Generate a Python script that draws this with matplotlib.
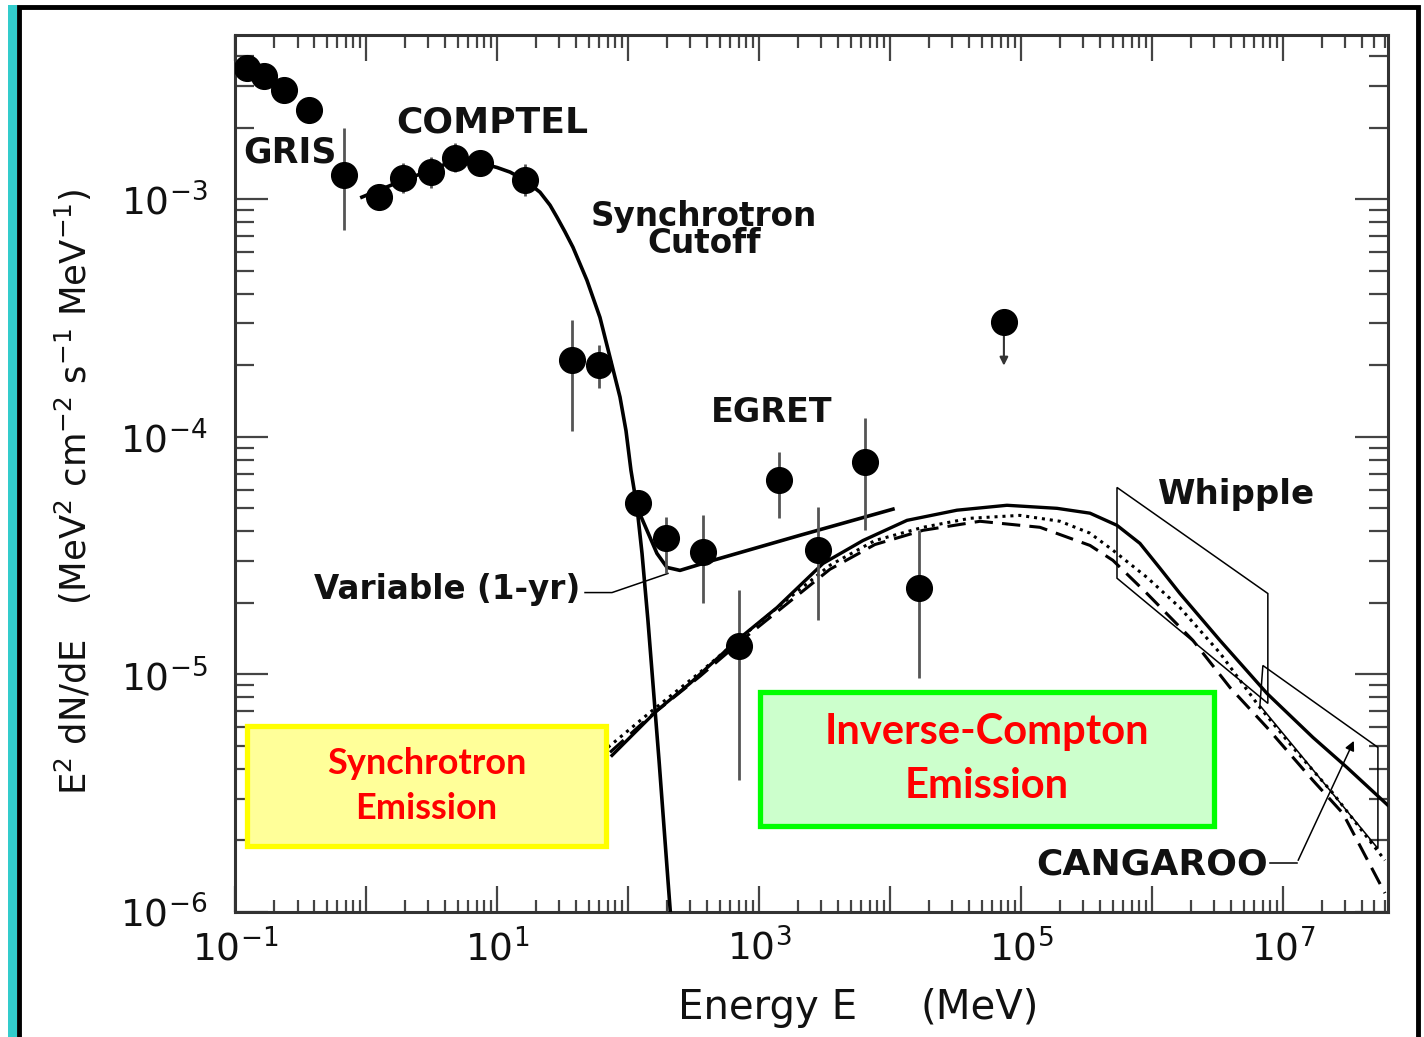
import numpy as np
import matplotlib
matplotlib.use("Agg")
import matplotlib.pyplot as plt
from matplotlib.patches import Rectangle, Polygon
from matplotlib.ticker import LogLocator, FuncFormatter, NullFormatter

# --- measured points (E in MeV, E^2 dN/dE in MeV cm^-2 s^-1) ---
gris_E = [0.124, 0.166, 0.237, 0.367, 0.68]
gris_F = [3.56e-3, 3.30e-3, 2.88e-3, 2.37e-3, 1.26e-3]
gris_hi = [3.62e-3, 3.36e-3, 2.95e-3, 2.68e-3, 1.99e-3]
gris_lo = [3.50e-3, 3.24e-3, 2.80e-3, 2.30e-3, 7.4e-4]

comptel_E = [1.26, 1.92, 3.13, 4.78, 7.4, 16.4, 37.4, 60.1]
comptel_F = [1.02e-3, 1.23e-3, 1.30e-3, 1.49e-3, 1.42e-3, 1.20e-3, 2.10e-4, 2.00e-4]
comptel_hi = [1.10e-3, 1.42e-3, 1.50e-3, 1.72e-3, 1.55e-3, 1.40e-3, 3.10e-4, 2.43e-4]
comptel_lo = [0.95e-3, 1.06e-3, 1.12e-3, 1.30e-3, 1.32e-3, 1.03e-3, 1.06e-4, 1.61e-4]

egret_E = [119, 195, 374, 703, 1422, 2820, 6440, 16600]
egret_F = [5.25e-5, 3.74e-5, 3.27e-5, 1.32e-5, 6.56e-5, 3.33e-5, 7.82e-5, 2.32e-5]
egret_hi = [5.9e-5, 4.58e-5, 4.67e-5, 2.26e-5, 8.61e-5, 5.05e-5, 1.20e-4, 4.04e-5]
egret_lo = [4.7e-5, 2.66e-5, 1.99e-5, 3.58e-6, 4.54e-5, 1.69e-5, 4.04e-5, 9.7e-6]

ulim_E = 74100
ulim_F = 3.03e-4
ulim_tip = 1.94e-4

# --- model curves ---
sync_E = [0.93, 1.91, 3.08, 4.77, 7.41, 10.0, 12.6, 16.4, 21.3, 25.4, 28.7, 33.0,
          38.0, 48.6, 61.1, 72.9, 86.9, 96.6, 105.4, 117.2, 128, 142, 172.6, 212]
sync_F = [1.02e-3, 1.20e-3, 1.32e-3, 1.46e-3, 1.42e-3, 1.36e-3, 1.30e-3, 1.20e-3,
          1.07e-3, 9.44e-4, 8.40e-4, 7.30e-4, 6.28e-4, 4.56e-4, 3.18e-4, 2.16e-4,
          1.47e-4, 1.06e-4, 7.22e-5, 5.05e-5, 3.23e-5, 1.69e-5, 4.35e-6, 9.5e-7]

var_E = [117.2, 139.6, 166.4, 198.6, 249.5, 445.6, 2056, 10540]
var_F = [5.05e-5, 4.04e-5, 3.23e-5, 2.82e-5, 2.74e-5, 3.02e-5, 3.85e-5, 4.96e-5]

ic_E = [75.5, 166.4, 297, 679, 1371, 3083, 6223, 13490, 32450, 78160, 188300,
        336500, 541000, 809700, 1.15e6, 1.636e6, 3.306e6, 7.55e6, 1.694e7, 3.08e7, 6.34e7]
ic_F = [4.56e-6, 7.05e-6, 9.16e-6, 1.39e-5, 1.91e-5, 2.93e-5, 3.66e-5, 4.45e-5,
        4.91e-5, 5.15e-5, 5.00e-5, 4.77e-5, 4.24e-5, 3.56e-5, 2.80e-5, 2.19e-5,
        1.39e-5, 8.32e-6, 5.43e-6, 4.06e-6, 2.81e-6]

icdot_E = [70.3, 147.2, 354.6, 809, 1726, 3483, 7674, 17860, 40820, 98200, 198800,
           336500, 503500, 916300, 1.636e6, 3.306e6, 6.67e6, 1.19e7, 2.41e7, 6.01e7]
icdot_F = [4.93e-6, 6.92e-6, 1.02e-5, 1.50e-5, 2.11e-5, 2.88e-5, 3.66e-5, 4.16e-5,
           4.54e-5, 4.67e-5, 4.41e-5, 3.93e-5, 3.33e-5, 2.56e-5, 1.91e-5, 1.23e-5,
           7.26e-6, 4.93e-6, 3.16e-6, 1.65e-6]

icdash_E = [72.9, 147.2, 354.6, 809, 1726, 3483, 7674, 17860, 48640, 139700, 336500,
            503500, 916300, 2.056e6, 3.94e6, 7.55e6, 1.694e7, 2.87e7, 6.01e7]
icdash_F = [4.70e-6, 6.65e-6, 9.82e-6, 1.45e-5, 2.03e-5, 2.77e-5, 3.52e-5, 4.04e-5,
            4.41e-5, 4.16e-5, 3.49e-5, 3.02e-5, 2.19e-5, 1.39e-5, 8.81e-6, 5.98e-6,
            3.58e-6, 2.60e-6, 1.20e-6]

# TeV boxes
whipple_E = [541000, 7.67e6, 7.67e6, 541000]
whipple_F = [6.12e-5, 2.19e-5, 7.55e-6, 2.54e-5]
cangaroo_E = [7.03e6, 5.31e7, 5.31e7, 6.67e6]
cangaroo_F = [1.09e-5, 4.93e-6, 1.85e-6, 7.40e-6]

# leader lines for labels
var_lead_E = [47.0, 75.5, 201.8]
var_lead_F = [2.21e-5, 2.21e-5, 2.66e-5]
cang_lead_E = [7.96e6, 1.28e7]
cang_lead_F = [1.61e-6, 1.61e-6]
cang_tip_E = 3.55e7
cang_tip_F = 5.38e-6

fig = plt.figure(figsize=(14.24, 10.37), dpi=100)
ax = fig.add_axes([0.16503, 0.12054, 0.80969, 0.84571])
ax.set_xscale("log")
ax.set_yscale("log")
ax.set_xlim(0.1, 6.34e7)
ax.set_ylim(1e-6, 4.91e-3)

# outer frame and side stripe
fig.add_artist(Rectangle((8 / 1424, -0.05), 9 / 1424, 1.05 - 5 / 1037,
                         transform=fig.transFigure, facecolor="#33CCCC",
                         edgecolor="none", zorder=0))
fig.add_artist(Rectangle((19 / 1424, -0.05), 1399 / 1424, 1.05 - 7 / 1037,
                         transform=fig.transFigure, facecolor="none",
                         edgecolor="black", linewidth=3.5, zorder=0))

ecol = "#555555"
pt_kw = dict(fmt="o", color="black", ms=18.5, ecolor=ecol, elinewidth=2.0,
             capsize=0, zorder=5)
for E, F, lo, hi in [(gris_E, gris_F, gris_lo, gris_hi),
                     (comptel_E, comptel_F, comptel_lo, comptel_hi),
                     (egret_E, egret_F, egret_lo, egret_hi)]:
    E = np.array(E)
    F = np.array(F)
    yerr = [F - np.array(lo), np.array(hi) - F]
    ax.errorbar(E, F, yerr=yerr, **pt_kw)

# upper limit
ax.plot([ulim_E], [ulim_F], "o", color="black", ms=18.5, zorder=5)
ax.annotate("", xy=(ulim_E, ulim_tip), xytext=(ulim_E, ulim_F),
            arrowprops=dict(arrowstyle="-|>", color="#333333", lw=1.5,
                            mutation_scale=12), zorder=4)

# curves
ax.plot(sync_E, sync_F, color="black", lw=2.6, zorder=4)
ax.plot(var_E, var_F, color="black", lw=2.6, zorder=4)
ax.plot(icdot_E, icdot_F, color="black", lw=2.2, ls=(0, (1, 1.6)), zorder=4)
ax.plot(icdash_E, icdash_F, color="black", lw=2.2, ls=(0, (6, 3)), zorder=4)
ax.plot(ic_E, ic_F, color="black", lw=2.4, zorder=4)

ax.add_patch(Polygon(list(zip(whipple_E, whipple_F)), closed=True,
                     fill=False, edgecolor="black", lw=1.1, zorder=4))
ax.add_patch(Polygon(list(zip(cangaroo_E, cangaroo_F)), closed=True,
                     fill=False, edgecolor="black", lw=1.1, zorder=4))

ax.plot(var_lead_E, var_lead_F, color="black", lw=1.1, zorder=4)
ax.plot(cang_lead_E, cang_lead_F, color="black", lw=1.1, zorder=4)
ax.annotate("", xy=(cang_tip_E, cang_tip_F), xytext=(cang_lead_E[-1], cang_lead_F[-1]),
            arrowprops=dict(arrowstyle="-|>", color="black", lw=1.1,
                            mutation_scale=14), zorder=4)

# labels on the plot
lab = dict(transform=ax.transAxes, color="#111111", family="DejaVu Sans")
ax.text(0.0477, 0.8655, "GRIS", ha="center", va="center", fontsize=25,
        fontweight="bold", **lab)
ax.text(0.2229, 0.8997, "COMPTEL", ha="center", va="center", fontsize=26,
        fontweight="bold", **lab)
ax.text(0.4068, 0.7777, "Synchrotron\nCutoff", ha="center", va="center",
        fontsize=23.5, fontweight="semibold", linespacing=0.8, **lab)
ax.text(0.4657, 0.569, "EGRET", ha="center", va="center", fontsize=24,
        fontweight="semibold", **lab)
ax.text(0.2992, 0.3672, "Variable (1-yr)", ha="right", va="center", fontsize=23.5,
        fontweight="semibold", **lab)
ax.text(0.869, 0.4755, "Whipple", ha="center", va="center", fontsize=24.5,
        fontweight="semibold", **lab)
ax.text(0.8959, 0.0547, "CANGAROO", ha="right", va="center", fontsize=26,
        fontweight="semibold", **lab)

# highlighted boxes
ax.add_patch(Rectangle((0.0104, 0.0753), 0.3114, 0.1367, transform=ax.transAxes,
                       facecolor="#FFFF99", edgecolor="#FFFF00", lw=3.8, zorder=6))
ax.text(0.166, 0.1435, "Synchrotron\nEmission", transform=ax.transAxes,
        ha="center", va="center", fontsize=26, fontweight="bold", color="red",
        family="Lato", linespacing=1.45, zorder=7)
ax.add_patch(Rectangle((0.4553, 0.098), 0.3937, 0.1529, transform=ax.transAxes,
                       facecolor="#CCFFCC", edgecolor="#00FF00", lw=3.8, zorder=6))
ax.text(0.652, 0.1745, "Inverse-Compton\nEmission", transform=ax.transAxes,
        ha="center", va="center", fontsize=30, fontweight="bold", color="red",
        family="Lato", linespacing=1.5, zorder=7)

# axes styling
for s in ax.spines.values():
    s.set_color("#333333")
    s.set_linewidth(2.2)
ax.xaxis.set_major_locator(LogLocator(base=10, subs=(1.0,), numticks=20))
ax.xaxis.set_minor_locator(LogLocator(base=10, subs=np.arange(2, 10), numticks=20))
ax.yaxis.set_major_locator(LogLocator(base=10, subs=(1.0,), numticks=20))
ax.yaxis.set_minor_locator(LogLocator(base=10, subs=np.arange(2, 10), numticks=20))


def xfmt(v, pos):
    n = int(round(np.log10(v)))
    return r"$10^{%d}$" % n if n % 2 else ""


ax.xaxis.set_major_formatter(FuncFormatter(xfmt))
ax.yaxis.set_major_formatter(FuncFormatter(lambda v, p: r"$10^{%d}$" % int(round(np.log10(v)))))
ax.xaxis.set_minor_formatter(NullFormatter())
ax.yaxis.set_minor_formatter(NullFormatter())

ax.tick_params(which="both", direction="in", top=True, right=True,
               color="#444444", width=1.6, labelsize=27, labelcolor="#111111")
ax.tick_params(axis="x", which="major", length=19, pad=12)
ax.tick_params(axis="x", which="minor", length=9)
ax.tick_params(axis="y", which="major", length=24, pad=20)
ax.tick_params(axis="y", which="minor", length=14)

fig.text(678 / 1424, 1 - 1008 / 1037, "Energy E", ha="left", va="center",
         fontsize=29, color="#111111")
fig.text(920 / 1424, 1 - 1008 / 1037, "(MeV)", ha="left", va="center",
         fontsize=29, color="#111111")
fig.text(73 / 1424, 1 - 492 / 1037,
         r"E$^2$ dN/dE   (MeV$^2$ cm$^{-2}$ s$^{-1}$ MeV$^{-1}$)",
         rotation=90, ha="center", va="center", fontsize=25.5, color="#111111")

fig.savefig("out.png", dpi=100, facecolor="white")
